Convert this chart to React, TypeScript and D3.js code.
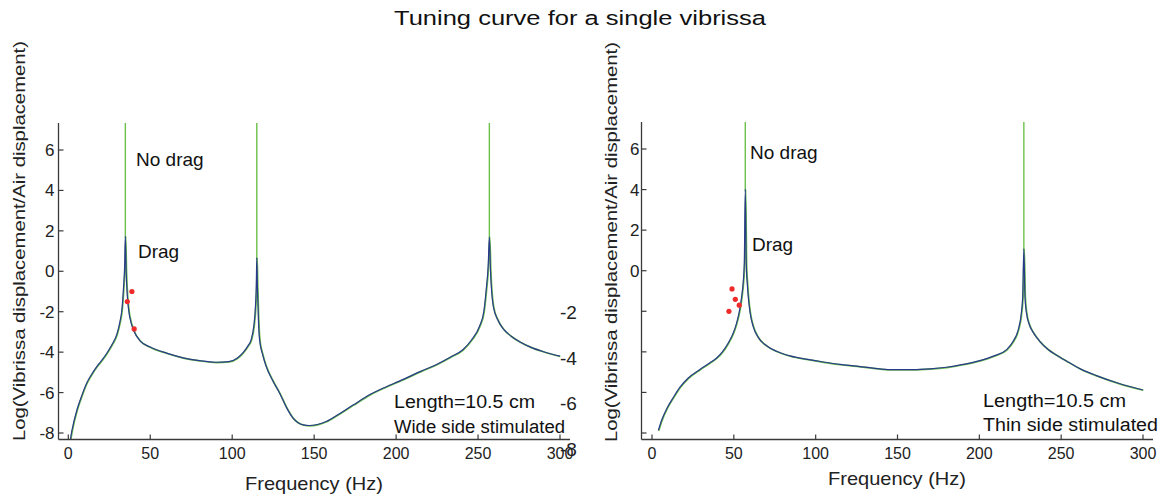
import React from 'react';
import * as d3 from 'd3';

// ---------- text ----------
const titleText = 'Tuning curve for a single vibrissa';
const yLabelText = 'Log(Vibrissa displacement/Air displacement)';
const xLabelText = 'Frequency (Hz)';
const noDragText = 'No drag';
const dragText = 'Drag';
const lengthText = 'Length=10.5 cm';
const leftSideText = 'Wide side stimulated';
const rightSideText = 'Thin side stimulated';

// ---------- ticks ----------
const xTicks = [0, 50, 100, 150, 200, 250, 300];
const yTicks = [-8, -6, -4, -2, 0, 2, 4, 6];
const rightLabeledYTicks = [0, 2, 4, 6];
const strayTickValues = [-2, -4, -6, -8];

// ---------- left panel (wide side) ----------
const leftFreq = [1.2, 2.3, 5.3, 8, 11.4, 15, 17.5, 20.5, 23.6, 26.5, 29.7, 31.5, 32.7, 33.7, 34.4, 34.8, 35.3, 36, 36.8, 38.5, 40, 43.9, 50, 60, 70, 80, 90, 98, 103, 106.5, 109.5, 111.6, 113.2, 114.2, 114.7, 115, 115.4, 116, 116.7, 118.5, 120.7, 125, 128.9, 133, 137, 140, 143.5, 147, 152, 157.4, 165, 173.7, 184, 190, 204, 215, 224.4, 233, 240.7, 246, 250.9, 253.5, 255, 256.2, 256.9, 257.6, 258.3, 259.3, 262, 265.4, 270, 275.6, 282, 290, 300];
const leftDrag = [-8.35, -7.85, -6.85, -6.2, -5.5, -5.0, -4.7, -4.4, -4.04, -3.65, -3.1, -2.5, -1.9, -0.8, 0.3, 1.73, 0.0, -1.2, -1.9, -2.6, -2.95, -3.45, -3.75, -4.05, -4.28, -4.42, -4.5, -4.47, -4.3, -4.04, -3.7, -3.38, -2.7, -1.73, -0.7, 0.66, -0.8, -2.4, -3.38, -4.1, -4.7, -5.45, -6.02, -6.72, -7.25, -7.48, -7.6, -7.63, -7.58, -7.43, -7.07, -6.62, -6.1, -5.86, -5.36, -4.95, -4.62, -4.25, -3.88, -3.4, -2.72, -2.0, -0.9, 0.3, 1.7, 0.0, -1.0, -1.73, -2.4, -2.85, -3.2, -3.5, -3.75, -3.98, -4.2];
const leftNoDragPeakFreq = [34.8, 115, 256.9];
const leftDotFreq = [36.0, 38.8, 40.2];
const leftDotValue = [-1.5, -1.0, -2.85];

// ---------- right panel (thin side) ----------
const rightFreq = [3.9, 6, 9, 13, 17.1, 22, 29.3, 35, 39.5, 43, 46.6, 49.5, 51.7, 53.5, 54.8, 55.8, 56.4, 57, 57.6, 58.2, 58.8, 60, 61.8, 65, 70, 76, 84.3, 95, 104.6, 115, 125, 135, 145.4, 159.6, 170, 180, 190, 200.4, 209, 216.7, 220.5, 223.8, 225.5, 226.5, 227.2, 227.9, 228.8, 230.5, 233, 236.9, 242, 247, 253.2, 262, 271.5, 285, 300];
const rightDrag = [-7.87, -7.35, -6.8, -6.25, -5.74, -5.3, -4.87, -4.56, -4.3, -4.0, -3.56, -3.1, -2.58, -1.95, -1.27, -0.5, 0.38, 4.02, 0.3, -0.6, -1.27, -2.1, -2.74, -3.3, -3.7, -3.97, -4.2, -4.37, -4.5, -4.62, -4.7, -4.8, -4.88, -4.88, -4.84, -4.76, -4.62, -4.43, -4.2, -3.89, -3.5, -2.9, -2.2, -1.27, 1.08, -1.3, -2.08, -2.65, -3.05, -3.48, -3.88, -4.15, -4.45, -4.85, -5.17, -5.55, -5.88];
const rightNoDragPeakFreq = [57, 227.2];
const rightDotFreq = [47, 48.9, 50.9, 53.3];
const rightDotValue = [-2.0, -0.9, -1.41, -1.7];

// the undamped resonance goes off the top of the axes
const noDragPeakValue = 40;

const FONT = "'Liberation Sans', Arial, Helvetica, sans-serif";
const BLUE = '#2a3b8c';
const GREEN = '#6cc04a';
const RED = '#ee2a2a';
const AXIS = '#3a3a3a';

type PanelProps = {
  id: string;
  freq: number[];
  drag: number[];
  peaks: number[];
  dotF: number[];
  dotV: number[];
  xRange: [number, number];
  yRange: [number, number];
  axisX: number;
  axisTop: number;
  axisY: number;
  axisRight: number;
  labeled: (v: number) => boolean;
  labelGap: number;
  yLabelX: number;
  yLabelY: number;
  xLabelX: number;
  xLabelY: number;
  noDragPos: [number, number];
  dragPos: [number, number];
  notePos: [number, number];
  sideText: string;
  lengthLen: number;
  sideLen: number;
};

function Panel(p: PanelProps) {
  const x = d3.scaleLinear().domain([0, 300]).range(p.xRange);
  const y = d3.scaleLinear().domain([-8, 6]).range(p.yRange);
  const pts = p.freq.map((f, i) => ({ f, v: p.drag[i] }));
  const spikes = p.peaks.map((f) => ({ f, v: p.drag[p.freq.indexOf(f)] }));
  const line = d3
    .line<{ f: number; v: number }>()
    .x((d) => x(d.f))
    .y((d) => y(d.v))
    .curve(d3.curveMonotoneX);
  const clipId = `clip-${p.id}`;
  return (
    <g>
      <defs>
        <clipPath id={clipId}>
          <rect x={p.axisX} y={p.axisTop} width={p.axisRight - p.axisX} height={p.axisY - p.axisTop} />
        </clipPath>
      </defs>
      <g clipPath={`url(#${clipId})`}>
        <path d={line(pts) || ''} fill="none" stroke={GREEN} strokeWidth={1.7} transform="translate(0.4,0.3)" />
        {spikes.map((s, i) => (
          <line
            key={i}
            x1={x(s.f)}
            x2={x(s.f)}
            y1={y(s.v) + 2}
            y2={y(noDragPeakValue)}
            stroke={GREEN}
            strokeWidth={1.4}
          />
        ))}
        <path d={line(pts) || ''} fill="none" stroke={BLUE} strokeWidth={1.2} />
      </g>
      {p.dotF.map((f, i) => (
        <circle key={i} cx={x(f)} cy={y(p.dotV[i])} r={2.6} fill={RED} />
      ))}
      {/* axes */}
      <line x1={p.axisX} x2={p.axisX} y1={p.axisTop} y2={p.axisY} stroke={AXIS} strokeWidth={1.3} />
      <line x1={p.axisX} x2={p.axisRight} y1={p.axisY} y2={p.axisY} stroke={AXIS} strokeWidth={1.3} />
      {xTicks.map((t) => (
        <g key={`x${t}`}>
          <line x1={x(t)} x2={x(t)} y1={p.axisY} y2={p.axisY - 5} stroke={AXIS} strokeWidth={1.2} />
          <text x={x(t)} y={459} textAnchor="middle" fontSize={16} fill="#222">
            {t}
          </text>
        </g>
      ))}
      {yTicks.map((t) => (
        <g key={`y${t}`}>
          <line x1={p.axisX} x2={p.axisX + 5} y1={y(t)} y2={y(t)} stroke={AXIS} strokeWidth={1.2} />
          {p.labeled(t) && (
            <text x={p.axisX - p.labelGap} y={y(t) + 6} textAnchor="end" fontSize={17} fill="#222">
              {t}
            </text>
          )}
        </g>
      ))}
      <text
        transform={`translate(${p.yLabelX},${p.yLabelY}) rotate(-90)`}
        textAnchor="middle"
        fontSize={17}
        fill="#222"
        textLength={400}
        lengthAdjust="spacingAndGlyphs"
      >
        {yLabelText}
      </text>
      <text x={p.xLabelX} y={p.xLabelY} textAnchor="middle" fontSize={19} fill="#222" textLength={138} lengthAdjust="spacingAndGlyphs">
        {xLabelText}
      </text>
      <text x={p.noDragPos[0]} y={p.noDragPos[1]} fontSize={19} fill="#111">
        {noDragText}
      </text>
      <text x={p.dragPos[0]} y={p.dragPos[1]} fontSize={19} fill="#111">
        {dragText}
      </text>
      <text x={p.notePos[0]} y={p.notePos[1]} fontSize={18} fill="#111" textLength={p.lengthLen} lengthAdjust="spacingAndGlyphs">
        {lengthText}
      </text>
      <text x={p.notePos[0]} y={p.notePos[1] + 24.5} fontSize={18} fill="#111" textLength={p.sideLen} lengthAdjust="spacingAndGlyphs">
        {p.sideText}
      </text>
    </g>
  );
}

export default function App() {
  const stray = d3.scaleLinear().domain([-2, -8]).range([312, 449]);
  return (
    <svg
      width={1161}
      height={497}
      style={{ position: 'absolute', left: 0, top: 0, background: '#fff' }}
      fontFamily={FONT}
    >
      <rect x={0} y={0} width={1161} height={497} fill="#fff" />
      <text x={580} y={25} textAnchor="middle" fontSize={20.5} fill="#111" textLength={372} lengthAdjust="spacingAndGlyphs">
        {titleText}
      </text>
      <Panel
        id="left"
        freq={leftFreq}
        drag={leftDrag}
        peaks={leftNoDragPeakFreq}
        dotF={leftDotFreq}
        dotV={leftDotValue}
        xRange={[68.3, 560]}
        yRange={[433, 150]}
        axisX={58.5}
        axisTop={123}
        axisY={439.5}
        axisRight={570}
        labeled={() => true}
        labelGap={4}
        yLabelX={25}
        yLabelY={241}
        xLabelX={314}
        xLabelY={490}
        noDragPos={[136, 166]}
        dragPos={[138, 258]}
        notePos={[394, 408]}
        sideText={leftSideText}
        lengthLen={141}
        sideLen={171}
      />
      {strayTickValues.map((v) => (
        <text key={v} x={560} y={stray(v) + 7} fontSize={19} fill="#222">
          {v}
        </text>
      ))}
      <Panel
        id="right"
        freq={rightFreq}
        drag={rightDrag}
        peaks={rightNoDragPeakFreq}
        dotF={rightDotFreq}
        dotV={rightDotValue}
        xRange={[652, 1143]}
        yRange={[433, 149]}
        axisX={641.5}
        axisTop={122}
        axisY={439.5}
        axisRight={1153}
        labeled={(v) => rightLabeledYTicks.includes(v)}
        labelGap={2}
        yLabelX={617}
        yLabelY={242}
        xLabelX={897}
        xLabelY={485}
        noDragPos={[750, 159]}
        dragPos={[752, 251]}
        notePos={[983, 406.5]}
        sideText={rightSideText}
        lengthLen={143}
        sideLen={175}
      />
    </svg>
  );
}
